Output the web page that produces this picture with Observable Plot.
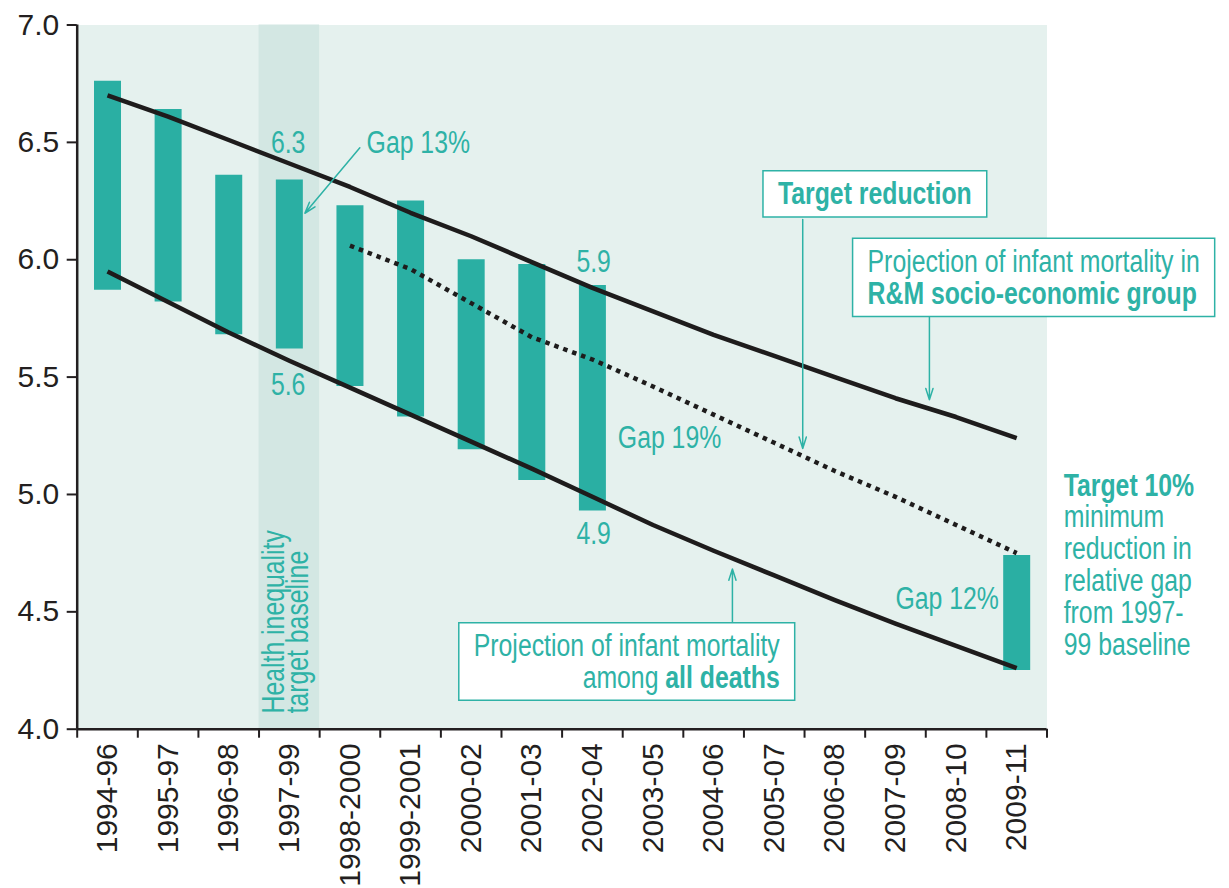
<!DOCTYPE html>
<html>
<head>
<meta charset="utf-8">
<script src="https://cdn.jsdelivr.net/npm/d3@7"></script>
<script src="https://cdn.jsdelivr.net/npm/@observablehq/plot@0.6"></script>
<style>
  body { margin: 0; background: #fff; }
  #chart svg { display: block; }
</style>
</head>
<body>
<div id="chart"></div>
<script>
// ---------- data ----------
const periods = ["1994-96","1995-97","1996-98","1997-99","1998-2000","1999-2001","2000-02","2001-03","2002-04","2003-05","2004-06","2005-07","2006-08","2007-09","2008-10","2009-11"];
const yTicks = [4.0, 4.5, 5.0, 5.5, 6.0, 6.5, 7.0];

// observed range bars (infant mortality, R&M vs all deaths)
const barPeriods = ["1994-96","1995-97","1996-98","1997-99","1998-2000","1999-2001","2000-02","2001-03","2002-04","2009-11"];
const barLow  = [5.87, 5.82, 5.68, 5.62, 5.46, 5.33, 5.19, 5.06, 4.93, 4.25];
const barHigh = [6.76, 6.64, 6.36, 6.34, 6.23, 6.25, 6.00, 5.98, 5.89, 4.74];

// projection of infant mortality in R&M socio-economic group
const rmProjection = [6.70, 6.61, 6.51, 6.41, 6.31, 6.20, 6.10, 5.99, 5.88, 5.78, 5.68, 5.59, 5.50, 5.41, 5.33, 5.24];
// projection of infant mortality among all deaths
const allDeathsProjection = [5.95, 5.82, 5.69, 5.57, 5.455, 5.34, 5.225, 5.11, 4.99, 4.87, 4.76, 4.655, 4.55, 4.45, 4.355, 4.26];
// target reduction (dotted)
const targetPeriods = ["1998-2000","1999-2001","2000-02","2001-03","2002-04","2003-05","2004-06","2005-07","2006-08","2007-09","2008-10","2009-11"];
const targetReduction = [6.06, 5.96, 5.815, 5.67, 5.575, 5.46, 5.34, 5.22, 5.10, 4.99, 4.87, 4.75];

const baselinePeriod = "1997-99";

// annotation texts
const valueLabels = [
  {text: "6.3", x: 3.48, y: 6.497},
  {text: "5.6", x: 3.48, y: 5.468},
  {text: "5.9", x: 8.52, y: 5.992},
  {text: "4.9", x: 8.52, y: 4.833}
];
const gapLabels = [
  {text: "Gap 13%", x: 4.775, y: 6.499},
  {text: "Gap 19%", x: 8.92, y: 5.240},
  {text: "Gap 12%", x: 13.50, y: 4.556}
];
const arrows = [
  {x1: 4.663, y1: 6.477, x2: 3.756, y2: 6.198},
  {x1: 11.97, y1: 6.171, x2: 11.97, y2: 5.196},
  {x1: 14.06, y1: 5.755, x2: 14.06, y2: 5.403},
  {x1: 10.81, y1: 4.458, x2: 10.81, y2: 4.683}
];
const boxTarget = "Target reduction";
const boxRM = "Projection of infant mortality in\n**R&M socio-economic group**";
const boxAll = "Projection of infant mortality\namong **all deaths**";
const sideNote = "**Target 10%**\nminimum\nreduction in\nrelative gap\nfrom 1997-\n99 baseline";
const baselineNote = "Health inequality\ntarget baseline";

// ---------- helpers & styles ----------
const idx = c => periods.indexOf(c);
const mid = c => idx(c) + 0.5;
const teal = "#2aafa3";
const tealText = "#2eb2a6";
const ink = "#1e1c1c";
const sans = "'Liberation Sans', Arial, sans-serif";
const condense = 0.80; // emulate a narrow face

const bars = barPeriods.map((p, i) => ({period: p, low: barLow[i], high: barHigh[i]}));
const rmLine = periods.map((p, i) => ({period: p, v: rmProjection[i]}));
const allLine = periods.map((p, i) => ({period: p, v: allDeathsProjection[i]}));
const tgtLine = targetPeriods.map((p, i) => ({period: p, v: targetReduction[i]}));

const note = {fill: tealText, fontFamily: sans, fontSize: 31};

const plot = Plot.plot({
  width: 1229,
  height: 888,
  marginLeft: 76.7,
  marginRight: 182.5,
  marginTop: 24.5,
  marginBottom: 159.3,
  x: {type: "linear", domain: [0, 16]},
  y: {domain: [4, 7]},
  style: {fontFamily: sans, fontSize: "30px", color: "#231f20", background: "white", overflow: "visible"},
  marks: [
    Plot.frame({fill: "#e5f1ee", stroke: "none"}),
    Plot.rect([baselinePeriod], {x1: d => idx(d), x2: d => idx(d) + 1, y1: () => 4, y2: () => 7, fill: "#d3e7e3"}),
    Plot.text([baselineNote], {x: () => 3.48, y: () => 4.067, rotate: -90, textAnchor: "start", lineAnchor: "middle", lineHeight: 0.78, ...note}),
    // bars
    Plot.ruleX(bars, {x: d => mid(d.period), y1: "low", y2: "high", stroke: teal, strokeWidth: 27}),
    // projections
    Plot.line(rmLine, {x: d => mid(d.period), y: "v", stroke: ink, strokeWidth: 4.5, strokeLinecap: "butt"}),
    Plot.line(allLine, {x: d => mid(d.period), y: "v", stroke: ink, strokeWidth: 4.5, strokeLinecap: "butt"}),
    Plot.line(tgtLine, {x: d => mid(d.period), y: "v", stroke: ink, strokeWidth: 4.5, strokeDasharray: "4.5,5", strokeLinecap: "butt"}),
    // axes
    Plot.ruleX([0], {y1: 4, y2: 7, stroke: "#231f20", strokeWidth: 2.5}),
    Plot.ruleY([4], {x1: 0, x2: 16, stroke: "#231f20", strokeWidth: 2.5}),
    Plot.axisY(yTicks, {tickSize: 10, tickPadding: 8, tickFormat: d3.format(".1f"), strokeWidth: 2, fontSize: 30}),
    Plot.axisX(d3.range(17), {tickSize: 9, tickFormat: () => "", strokeWidth: 2}),
    Plot.axisX(periods.map(mid), {tickSize: 0, tickPadding: 14, tickRotate: -90, tickFormat: d => periods[Math.floor(d)], fontSize: 30}),
    // annotations
    Plot.arrow(arrows, {x1: "x1", y1: "y1", x2: "x2", y2: "y2", stroke: tealText, strokeWidth: 1.5, headLength: 12, headAngle: 35}),
    Plot.text(valueLabels, {x: "x", y: "y", text: "text", ...note}),
    Plot.text(gapLabels, {x: "x", y: "y", text: "text", textAnchor: "start", ...note}),
    Plot.text([boxTarget], {x: () => 13.16, y: () => 6.278, fontWeight: "bold", ...note}),
    Plot.text([boxRM], {x: () => 13.04, y: () => 5.924, textAnchor: "start", lineHeight: 1.03, ...note}),
    Plot.text([boxAll], {x: () => 11.59, y: () => 4.286, textAnchor: "end", lineHeight: 1.01, ...note}),
    Plot.text([sideNote], {x: () => 16.276, y: () => 4.699, textAnchor: "start", lineHeight: 1.03, ...note})
  ]
});

document.getElementById("chart").appendChild(plot);

const NS = "http://www.w3.org/2000/svg";
const strip = s => s.replace(/\*\*/g, "").replace(/\n/g, "");
const boxedKeys = [boxTarget, boxRM, boxAll].map(strip);

// condensed look for the teal annotation texts
Array.from(plot.querySelectorAll("text")).forEach(t => {
  const f = t.getAttribute("fill") || (t.parentNode && t.parentNode.getAttribute("fill"));
  if (f !== tealText) return;
  const tr = t.getAttribute("transform") || "";
  t.setAttribute("transform", `${tr} scale(${condense},1)`);
});

// bold markup **...**
Array.from(plot.querySelectorAll("text, tspan")).forEach(node => {
  if (node.children.length) return;
  const s = node.textContent;
  if (!s.includes("**")) return;
  node.textContent = "";
  s.split("**").forEach((part, k) => {
    if (!part) return;
    const t = document.createElementNS(NS, "tspan");
    if (k % 2) t.setAttribute("font-weight", "bold");
    t.textContent = part;
    node.appendChild(t);
  });
});

// white boxes behind boxed labels
const padX = 15 / condense, padY = 6;
Array.from(plot.querySelectorAll("text")).forEach(t => {
  if (!boxedKeys.includes(t.textContent.replace(/\*\*/g, ""))) return;
  const b = t.getBBox();
  const r = document.createElementNS(NS, "rect");
  r.setAttribute("x", b.x - padX);
  r.setAttribute("y", b.y - padY);
  r.setAttribute("width", b.width + 2 * padX);
  r.setAttribute("height", b.height + 2 * padY);
  const tr = t.getAttribute("transform");
  if (tr) r.setAttribute("transform", tr);
  r.setAttribute("fill", "white");
  r.setAttribute("stroke", tealText);
  r.setAttribute("stroke-width", 1.5);
  r.setAttribute("vector-effect", "non-scaling-stroke");
  t.parentNode.insertBefore(r, t);
});
</script>
</body>
</html>
